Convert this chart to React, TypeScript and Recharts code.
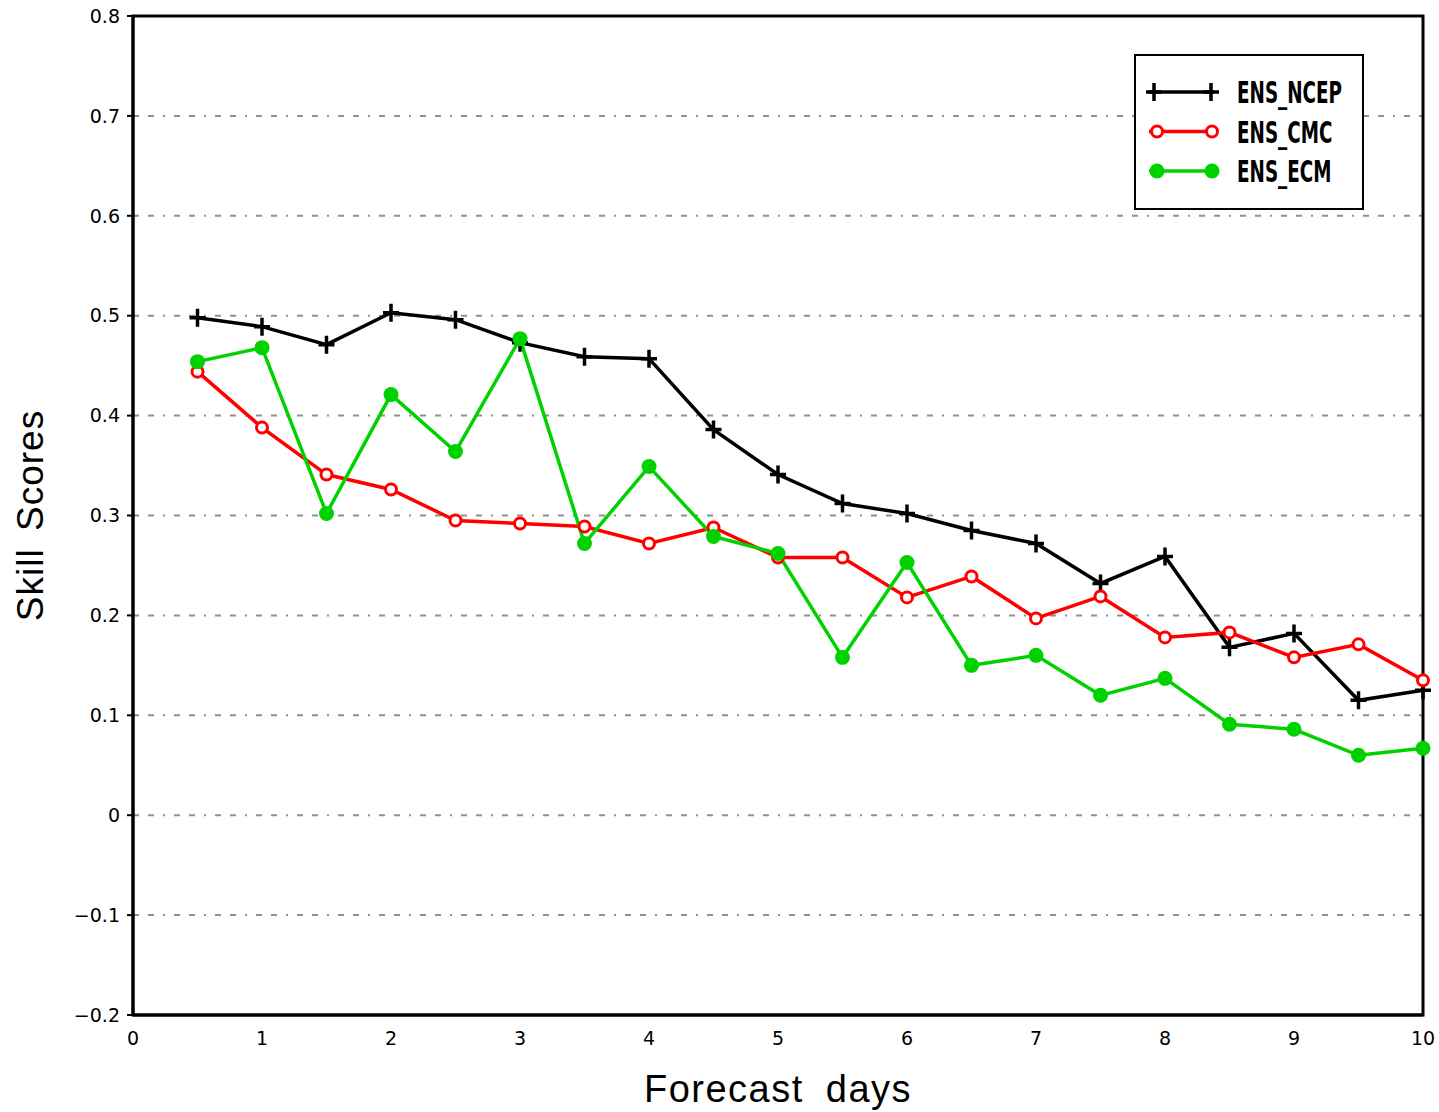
import React from "react";
import {
  LineChart,
  Line,
  XAxis,
  YAxis,
  CartesianGrid,
  Legend,
  ReferenceArea,
} from "recharts";

const days = [0.5, 1, 1.5, 2, 2.5, 3, 3.5, 4, 4.5, 5, 5.5, 6, 6.5, 7, 7.5, 8, 8.5, 9, 9.5, 10];
const ensNcep = [0.498, 0.489, 0.471, 0.503, 0.496, 0.473, 0.459, 0.457, 0.386, 0.341, 0.312, 0.302, 0.285, 0.272, 0.232, 0.259, 0.168, 0.182, 0.115, 0.125];
const ensCmc = [0.444, 0.388, 0.341, 0.326, 0.295, 0.292, 0.289, 0.272, 0.288, 0.258, 0.258, 0.218, 0.239, 0.197, 0.219, 0.178, 0.183, 0.158, 0.171, 0.135];
const ensEcm = [0.454, 0.468, 0.302, 0.421, 0.364, 0.477, 0.272, 0.349, 0.279, 0.262, 0.158, 0.253, 0.15, 0.16, 0.12, 0.137, 0.091, 0.086, 0.06, 0.067];

const xTicks = [0, 1, 2, 3, 4, 5, 6, 7, 8, 9, 10];
const yTicks = [-0.2, -0.1, 0, 0.1, 0.2, 0.3, 0.4, 0.5, 0.6, 0.7, 0.8];

const seriesNames = ["ENS_NCEP", "ENS_CMC", "ENS_ECM"];
const seriesKeys = ["ncep", "cmc", "ecm"];
const seriesColors = ["#000000", "#ff0000", "#00d200"];

const data = days.map((d, i) => ({
  day: d,
  ncep: ensNcep[i],
  cmc: ensCmc[i],
  ecm: ensEcm[i],
}));

const tickFont = { fontFamily: "DejaVu Sans", fontSize: 19, fill: "#000" };

function Marker({ kind, cx, cy }: { kind: number; cx: number; cy: number }) {
  if (kind === 0) {
    return (
      <path
        d={`M${cx - 8},${cy} H${cx + 8} M${cx},${cy - 9} V${cy + 9}`}
        stroke="#000"
        strokeWidth={3.5}
        fill="none"
      />
    );
  }
  if (kind === 1) {
    return <circle cx={cx} cy={cy} r={5.5} fill="#fff" stroke="#ff0000" strokeWidth={3} />;
  }
  return <circle cx={cx} cy={cy} r={7.5} fill="#00d200" stroke="none" />;
}

const makeDot = (kind: number) => (props: any) => {
  const { cx, cy, index } = props;
  if (cx == null || cy == null) return <g key={index} />;
  return <Marker key={index} kind={kind} cx={cx} cy={cy} />;
};

function LegendBox() {
  return (
    <svg width={230} height={156} style={{ display: "block" }}>
      <rect x={1} y={1} width={228} height={154} fill="#fff" stroke="#000" strokeWidth={2} />
      {seriesNames.map((name, i) => {
        const y = 38 + i * 39.5;
        return (
          <g key={name}>
            <line x1={15} x2={80} y1={y} y2={y} stroke={seriesColors[i]} strokeWidth={3.5} />
            <Marker kind={i} cx={i === 0 ? 20 : 23} cy={y} />
            <Marker kind={i} cx={i === 0 ? 77 : 78} cy={y} />
            <text
              transform={`translate(103 ${y + 11}) scale(0.68 1)`}
              fontFamily="Liberation Sans Narrow, DejaVu Sans Condensed, sans-serif"
              fontWeight="bold"
              fontSize={30}
              fill="#000"
            >
              {name}
            </text>
          </g>
        );
      })}
    </svg>
  );
}

export default function App() {
  return (
    <div style={{ position: "absolute", left: 0, top: 0, background: "#fff" }}>
      <LineChart
        width={1439}
        height={1112}
        data={data}
        margin={{ top: 16, right: 16, left: 0, bottom: 0 }}
      >
        <CartesianGrid
          horizontal
          vertical={false}
          stroke="#909090"
          strokeWidth={2}
          strokeDasharray="6 9 6 9 2 9"
        />
        <XAxis
          dataKey="day"
          type="number"
          domain={[0, 10]}
          ticks={xTicks}
          height={97}
          axisLine={{ stroke: "#000", strokeWidth: 3 }}
          tickLine={false}
          tickSize={6}
          tickMargin={11}
          tick={tickFont}
          label={(props: any) => {
            const vb = props.viewBox;
            return (
              <text
                x={vb.x + vb.width / 2}
                y={vb.y + 87}
                textAnchor="middle"
                fontFamily="Liberation Sans, Arial, sans-serif"
                fontSize={38}
                letterSpacing={1.5}
                wordSpacing={10}
                fill="#000"
              >
                Forecast days
              </text>
            );
          }}
        />
        <YAxis
          type="number"
          domain={[-0.2, 0.8]}
          ticks={yTicks}
          width={133}
          allowDataOverflow
          axisLine={{ stroke: "#000", strokeWidth: 3 }}
          tickLine={{ stroke: "#000", strokeWidth: 2 }}
          tickSize={6}
          tickMargin={7}
          tick={tickFont}
          tickFormatter={(v: number) =>
            Math.abs(v) < 1e-9 ? "0" : v < 0 ? "\u2212" + Math.abs(v).toFixed(1) : v.toFixed(1)
          }
          label={(props: any) => {
            const vb = props.viewBox;
            const cx = vb.x + 43;
            const cy = vb.y + vb.height / 2;
            return (
              <text
                x={cx}
                y={cy}
                transform={`rotate(-90 ${cx} ${cy})`}
                textAnchor="middle"
                fontFamily="Liberation Sans, Arial, sans-serif"
                fontSize={37}
                letterSpacing={1}
                wordSpacing={6}
                fill="#000"
              >
                Skill Scores
              </text>
            );
          }}
        />
        <ReferenceArea
          x1={0}
          x2={10}
          y1={-0.2}
          y2={0.8}
          fill="none"
          stroke="#000"
          strokeWidth={3}
          ifOverflow="visible"
        />
        {seriesKeys.map((k, i) => (
          <Line
            key={k}
            type="linear"
            dataKey={k}
            name={seriesNames[i]}
            stroke={seriesColors[i]}
            strokeWidth={3.5}
            dot={makeDot(i)}
            activeDot={false}
            isAnimationActive={false}
          />
        ))}
        <Legend
          layout="horizontal"
          verticalAlign="middle"
          align="center"
          wrapperStyle={{ position: "absolute", left: 1134, top: 54, width: 230, height: 156 }}
          content={() => <LegendBox />}
        />
      </LineChart>
    </div>
  );
}
